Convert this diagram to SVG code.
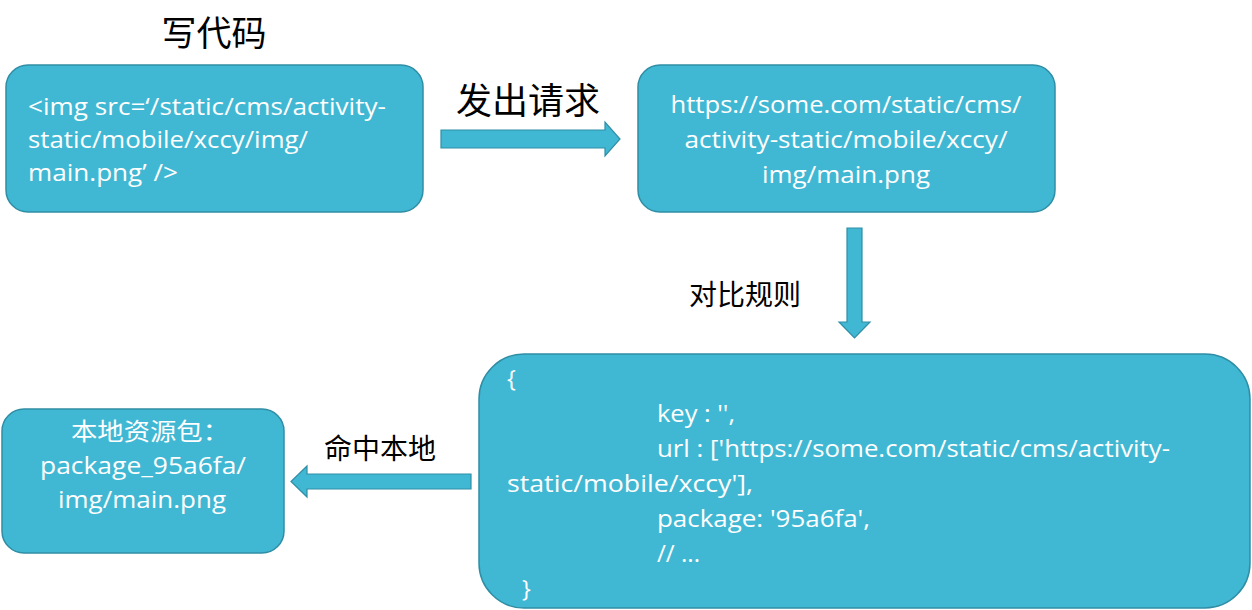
<svg xmlns="http://www.w3.org/2000/svg" width="1252" height="610" viewBox="0 0 1252 610">
<style>
.box{fill:#41B8D3;stroke:#2F8EA5;stroke-width:1.5}
.arr{fill:#41B8D3;stroke:#2F8EA5;stroke-width:1.2}
.w{fill:#ffffff;font-family:"Open Sans","Noto Sans CJK SC",sans-serif;font-size:23.5px}
.k{fill:#000000;font-family:"Noto Sans CJK SC",sans-serif}
</style>
<rect width="1252" height="610" fill="#ffffff"/>
<text class="k" x="214" y="46" font-size="35" text-anchor="middle">写代码</text>
<g id="node-code">
<rect class="box" x="6" y="65" width="417" height="147" rx="22"/>
<text class="w" x="28" y="115" textLength="358" lengthAdjust="spacingAndGlyphs">&lt;img src=‘/static/cms/activity-</text>
<text class="w" x="28" y="148" textLength="280" lengthAdjust="spacingAndGlyphs">static/mobile/xccy/img/</text>
<text class="w" x="28" y="181" textLength="150" lengthAdjust="spacingAndGlyphs">main.png’ /&gt;</text>
</g>
<g id="node-request">
<rect class="box" x="638" y="65" width="417" height="147" rx="22"/>
<text class="w" x="846" y="113" text-anchor="middle" textLength="351" lengthAdjust="spacingAndGlyphs">https://some.com/static/cms/</text>
<text class="w" x="846" y="148" text-anchor="middle" textLength="323" lengthAdjust="spacingAndGlyphs">activity-static/mobile/xccy/</text>
<text class="w" x="846" y="183" text-anchor="middle" textLength="168" lengthAdjust="spacingAndGlyphs">img/main.png</text>
</g>
<g id="node-rule">
<rect class="box" x="479" y="354" width="771" height="254" rx="45"/>
<text class="w" x="507" y="387">{</text>
<text class="w" x="657" y="422" textLength="78" lengthAdjust="spacingAndGlyphs">key : '',</text>
<text class="w" x="657" y="457" textLength="513" lengthAdjust="spacingAndGlyphs">url : ['https://some.com/static/cms/activity-</text>
<text class="w" x="507" y="492" textLength="246" lengthAdjust="spacingAndGlyphs">static/mobile/xccy'],</text>
<text class="w" x="657" y="527" textLength="213" lengthAdjust="spacingAndGlyphs">package: '95a6fa',</text>
<text class="w" x="657" y="562" textLength="43" lengthAdjust="spacingAndGlyphs">// ...</text>
<text class="w" x="522" y="597">}</text>
</g>
<g id="node-local">
<rect class="box" x="2" y="409" width="282" height="144" rx="22"/>
<text class="w" x="150" y="440" text-anchor="middle" textLength="158" lengthAdjust="spacingAndGlyphs">本地资源包：</text>
<text class="w" x="143" y="474" text-anchor="middle" textLength="206" lengthAdjust="spacingAndGlyphs">package_95a6fa/</text>
<text class="w" x="142" y="508" text-anchor="middle" textLength="168" lengthAdjust="spacingAndGlyphs">img/main.png</text>
</g>
<g id="connectors">
<polygon class="arr" points="441,130 605,130 605,122 620,139 605,156 605,148 441,148"/>
<polygon class="arr" points="847,228 862,228 862,322 870,322 854.5,338 839,322 847,322"/>
<polygon class="arr" points="471,474 307,474 307,466 291,481.5 307,497 307,489 471,489"/>
<text class="k" x="528" y="114" font-size="36" text-anchor="middle">发出请求</text>
<text class="k" x="745" y="305" font-size="28" text-anchor="middle">对比规则</text>
<text class="k" x="380" y="459" font-size="28" text-anchor="middle">命中本地</text>
</g>
</svg>
